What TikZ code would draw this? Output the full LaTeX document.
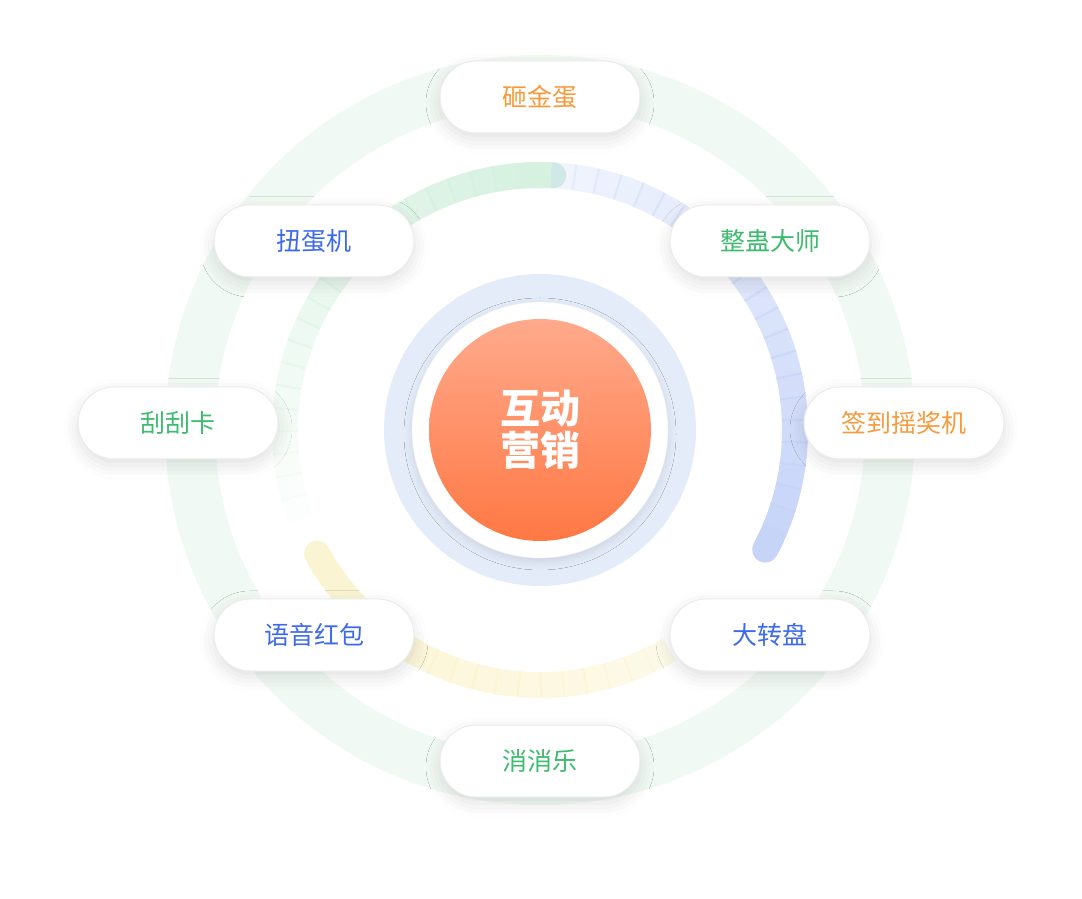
\documentclass[tikz,border=0pt]{standalone}
\usepackage{fontspec}
\newfontfamily\cjk{Noto Sans CJK SC}
\usetikzlibrary{shadows.blur}
\definecolor{corange}{HTML}{F79A3B}
\definecolor{cblue}{HTML}{3D6AE8}
\definecolor{cgreen}{HTML}{3DBB6E}
\definecolor{ringblue}{HTML}{C6D4F8}
\definecolor{ringgreen}{HTML}{D6F1E0}
\definecolor{ringyellow}{HTML}{FBF4D2}
\definecolor{outerg}{HTML}{EEF8F1}
\definecolor{midblue}{HTML}{E4ECFA}
\definecolor{otop}{HTML}{FFAA8C}
\definecolor{obot}{HTML}{FF7844}
\tikzset{
  pill/.style={draw=black!8, line width=1pt, fill=white, rounded corners=36pt,
    minimum width=200pt, minimum height=72pt, font=\cjk\fontsize{25}{25}\selectfont,
    blur shadow={shadow xshift=0pt, shadow yshift=-6pt, shadow blur radius=14pt, shadow opacity=12}},
  seg/.style={line width=26pt}
}
\begin{document}
\begin{tikzpicture}[x=1pt,y=1pt]
\useasboundingbox (0,0) rectangle (1082,898);
\coordinate (C) at (540,468);
% outer faint ring
\draw[outerg, line width=50pt, opacity=0.8] (C) circle[radius=350];
% green arc fading
\foreach \a in {90,95,...,195}{
  \pgfmathsetmacro\op{1-(\a-90)/115}
  \draw[ringgreen, seg, opacity=\op] ($(C)+(\a:255)$) arc[start angle=\a, end angle=\a+5.5, radius=255];
}
\draw[ringgreen, seg, line cap=round] ($(C)+(87:255)$) arc[start angle=87, end angle=93, radius=255];
% yellow arc
\foreach \a in {210,215,...,295}{
  \pgfmathsetmacro\op{0.5+0.5*(295-\a)/85}
  \draw[ringyellow, seg, opacity=\op] ($(C)+(\a:255)$) arc[start angle=\a, end angle=\a+5.5, radius=255];
}
\draw[ringyellow, seg, line cap=round] ($(C)+(212:255)$) arc[start angle=212, end angle=209, radius=255];
% blue arc
\foreach \a in {-28,-23,...,82}{
  \pgfmathsetmacro\op{0.25+0.75*(82-\a)/110}
  \draw[ringblue, seg, opacity=\op] ($(C)+(\a:255)$) arc[start angle=\a, end angle=\a+5.5, radius=255];
}
\draw[ringblue, seg, line cap=round] ($(C)+(-25:255)$) arc[start angle=-25, end angle=-28, radius=255];
% center
\fill[midblue] (C) circle[radius=156];
\node[circle, fill=white, minimum size=256pt, draw=black!6,
  blur shadow={shadow xshift=0pt, shadow yshift=-4pt, shadow blur radius=8pt, shadow opacity=10}] (mid) at (C) {};
\shade[top color=otop, bottom color=obot] (C) circle[radius=111];
\node[font=\cjk\bfseries\fontsize{40}{42}\selectfont, text=white, align=center] (core) at (C) {互动\\营销};
% pills
\node[pill, text=corange] (p1) at (540,801) {砸金蛋};
\node[pill, text=cblue] (p2) at (314,657) {扭蛋机};
\node[pill, text=cgreen] (p3) at (770,657) {整蛊大师};
\node[pill, text=cgreen] (p4) at (178,475) {刮刮卡};
\node[pill, text=corange] (p5) at (904,475) {签到摇奖机};
\node[pill, text=cblue] (p6) at (314,263) {语音红包};
\node[pill, text=cblue] (p7) at (770,263) {大转盘};
\node[pill, text=cgreen] (p8) at (540,137) {消消乐};
\end{tikzpicture}
\end{document}
